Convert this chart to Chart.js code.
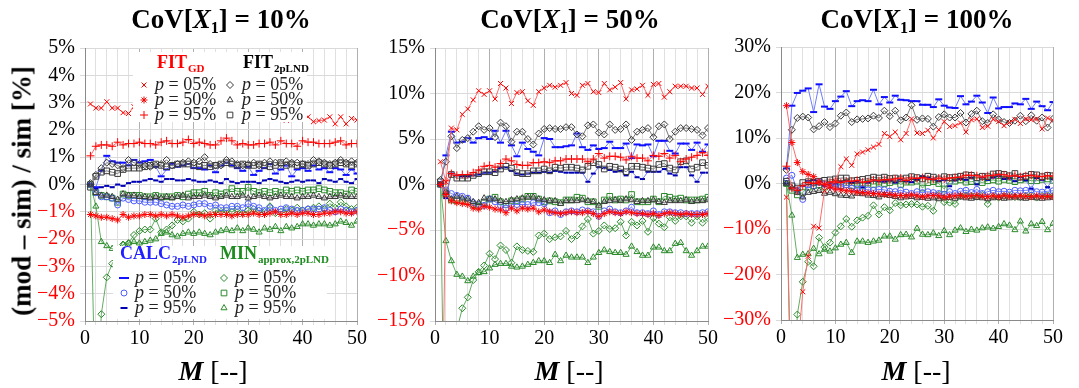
<!DOCTYPE html>
<html>
<head>
<meta charset="utf-8">
<script src="https://cdn.jsdelivr.net/npm/chart.js@4.4.1/dist/chart.umd.min.js"></script>
<style>
body{margin:0;background:#fff;width:1079px;height:388px;overflow:hidden;position:relative;font-family:"Liberation Serif",serif;}
canvas{position:absolute;top:0;}
.t{position:absolute;transform:translate(-50%,-50%);white-space:nowrap;font-weight:bold;font-size:27px;color:#000;line-height:1;}
.t sub{font-size:0.6em;vertical-align:-0.35em;line-height:0;}
.yt{transform:translate(-50%,-50%) rotate(-90deg);}
.xt{font-size:28px;font-weight:normal;}
</style>
</head>
<body>
<canvas id="c10" width="371" height="388" style="left:0px"></canvas>
<canvas id="c50" width="347" height="388" style="left:375px"></canvas>
<canvas id="c100" width="346" height="388" style="left:721px"></canvas>

<div class="t" style="left:221px;top:19px">CoV[<i>X</i><sub>1</sub>] = 10%</div>
<div class="t" style="left:570px;top:19px">CoV[<i>X</i><sub>1</sub>] = 50%</div>
<div class="t" style="left:917px;top:19px">CoV[<i>X</i><sub>1</sub>] = 100%</div>
<div class="t yt" style="left:22px;top:191px">(mod – sim) / sim [%]</div>
<div class="t xt" style="left:213px;top:371px"><b><i>M</i></b> [--]</div>
<div class="t xt" style="left:569px;top:371px"><b><i>M</i></b> [--]</div>
<div class="t xt" style="left:916px;top:371px"><b><i>M</i></b> [--]</div>

<script>
// M = number of ... (x axis)
const M = [1,2,3,4,5,6,7,8,9,10,11,12,13,14,15,16,17,18,19,20,21,22,23,24,25,26,27,28,29,30,31,32,33,34,35,36,37,38,39,40,41,42,43,44,45,46,47,48,49,50];
const P_LABELS = ['05%','50%','95%'];

// ---- CoV[X1] = 10% ----
const c10_gd05 = [2.95,2.8,2.8,3.03,2.8,2.8,2.63,2.6,2.85,2.7,2.65,2.7,2.6,2.65,2.6,2.55,2.6,2.65,2.55,2.5,2.6,2.55,2.5,2.55,2.45,2.5,2.55,2.45,2.5,2.4,2.5,2.45,2.4,2.5,2.4,2.45,2.35,2.4,2.45,2.4,2.48,2.3,2.34,2.36,2.48,2.22,2.48,2.22,2.42,2.36];
const c10_gd50 = [-1.1,-1.15,-1.2,-1.2,-1.25,-1.3,-1.1,-1.2,-1.15,-1.15,-1.1,-1.1,-1.15,-1.1,-1.15,-1.1,-1.15,-1.2,-1.15,-1.1,-1.1,-1.15,-1.1,-1.1,-1.1,-1.1,-1.15,-1.1,-1.1,-1.1,-1.05,-1.1,-1.1,-1.05,-1.0,-1.1,-1.1,-1.05,-1.1,-1.05,-1.05,-1.1,-1.1,-1.05,-1.05,-1.0,-1.0,-1.05,-1.05,-1.0];
const c10_gd95 = [1.05,1.4,1.45,1.45,1.4,1.55,1.45,1.5,1.5,1.55,1.5,1.5,1.45,1.55,1.6,1.5,1.5,1.55,1.65,1.5,1.55,1.5,1.45,1.45,1.6,1.7,1.6,1.45,1.5,1.45,1.45,1.5,1.5,1.55,1.45,1.6,1.5,1.5,1.4,1.6,1.55,1.55,1.5,1.5,1.5,1.55,1.6,1.45,1.5,1.5];
const c10_ln05 = [0.05,0.35,0.6,0.8,0.75,0.7,0.6,0.9,0.8,0.75,0.7,0.65,0.7,0.75,0.9,0.7,0.75,0.8,0.85,0.8,0.85,1.0,0.75,0.7,0.7,0.9,0.85,0.75,0.7,0.75,0.8,0.7,0.8,0.85,0.8,0.75,0.85,0.8,0.8,0.75,0.75,0.9,0.85,0.8,0.75,0.8,0.9,0.8,0.85,0.8];
const c10_ln50 = [0,-0.3,-0.4,-0.4,-0.45,-0.55,-0.35,-0.4,-0.4,-0.45,-0.45,-0.5,-0.45,-0.5,-0.45,-0.5,-0.45,-0.4,-0.5,-0.45,-0.45,-0.4,-0.45,-0.5,-0.45,-0.4,-0.45,-0.45,-0.4,-0.5,-0.45,-0.4,-0.45,-0.5,-0.45,-0.4,-0.45,-0.45,-0.5,-0.45,-0.45,-0.4,-0.45,-0.5,-0.45,-0.45,-0.4,-0.45,-0.45,-0.45];
const c10_ln95 = [-0.1,0.3,0.45,0.5,0.45,0.4,0.55,0.6,0.6,0.6,0.65,0.7,0.75,0.7,0.65,0.7,0.75,0.75,0.75,0.7,0.65,0.7,0.65,0.7,0.75,0.8,0.75,0.7,0.75,0.7,0.7,0.75,0.7,0.65,0.7,0.8,0.7,0.75,0.7,0.75,0.7,0.75,0.8,0.75,0.7,0.75,0.8,0.75,0.7,0.75];
const c10_ca05 = [0,-0.1,0.5,1.05,0.85,0.8,0.8,0.7,0.9,0.8,0.85,0.9,0.65,0.3,0.55,0.75,0.65,0.7,0.75,0.6,0.6,0.55,0.7,0.45,0.7,0.8,0.7,0.6,0.5,0.65,0.35,0.5,0.6,0.75,0.4,0.55,0.7,0.3,0.55,0.6,0.5,0.7,0.55,0.6,0.45,0.6,0.55,0.35,0.55,0.4];
const c10_ca50 = [0,-0.3,-0.45,-0.45,-0.5,-0.75,-0.5,-0.55,-0.6,-0.6,-0.65,-0.65,-0.65,-0.7,-0.75,-0.8,-0.8,-0.75,-0.8,-0.75,-0.7,-0.7,-0.8,-0.75,-0.85,-0.85,-0.8,-0.8,-0.85,-0.7,-0.8,-0.85,-0.95,-0.85,-0.95,-0.9,-0.85,-0.9,-0.95,-0.95,-0.9,-0.9,-0.9,-0.85,-0.95,-1.0,-0.9,-0.95,-1.0,-0.95];
const c10_ca95 = [0,-0.15,-0.1,-0.05,-0.1,0.0,-0.05,0.05,0.1,0.1,0.15,0.2,0.15,0.1,0.2,0.2,0.15,0.15,0.2,0.15,0.1,0.1,0.15,0.1,0.05,0.2,0.1,0.05,0.1,0.1,0.1,0.05,0.15,0.2,0.15,0.1,0.05,0.1,0.15,0.1,0.15,0.15,0.05,0.2,0.15,0.1,0.2,0.1,0.05,0.2];
const c10_mi05 = [0,-9,-4.75,-3.4,-2.9,-2.6,-2.2,-2.15,-1.85,-1.7,-1.65,-1.65,-1.25,-1.75,-1.65,-1.5,-1.3,-1.35,-1.25,-1.0,-1.1,-1.05,-1.25,-0.95,-1.0,-0.95,-1.0,-0.9,-1.05,-0.95,-0.9,-0.95,-1.0,-0.8,-1.05,-1.0,-0.9,-0.95,-0.85,-0.95,-0.9,-0.85,-0.8,-0.9,-0.7,-0.85,-0.65,-0.8,-0.9,-0.85];
const c10_mi50 = [0,-0.3,-0.4,-0.45,-0.5,-0.65,-0.35,-0.4,-0.4,-0.4,-0.45,-0.45,-0.4,-0.45,-0.45,-0.45,-0.4,-0.45,-0.35,-0.3,-0.3,-0.25,-0.4,-0.3,-0.35,-0.3,-0.15,-0.25,-0.25,-0.1,-0.25,-0.3,-0.25,-0.3,-0.25,-0.3,-0.2,-0.25,-0.2,-0.25,-0.2,-0.2,-0.15,-0.2,-0.25,-0.3,-0.3,-0.35,-0.2,-0.25];
const c10_mi95 = [0,-0.8,-2.1,-2.25,-2.35,-2.4,-2.2,-2.15,-2.1,-2.15,-2.1,-2.05,-2.0,-1.8,-1.75,-1.85,-1.9,-1.8,-1.75,-1.8,-1.75,-1.8,-1.85,-1.75,-1.7,-1.65,-1.7,-1.6,-1.7,-1.6,-1.65,-1.75,-1.6,-1.65,-1.55,-1.7,-1.55,-1.6,-1.55,-1.45,-1.45,-1.5,-1.45,-1.45,-1.5,-1.45,-1.35,-1.4,-1.5,-1.35];

// ---- CoV[X1] = 50% ----
const c50_gd05 = [2.5,0.3,6.2,6.0,7.7,8.3,9.3,10.3,9.9,10.3,9.4,11.1,10.6,8.9,10.1,10.2,9.2,8.7,10.2,10.6,10.9,10.7,10.9,11.2,10.0,9.8,10.9,11.1,10.2,10.1,11.1,10.4,10.7,11.2,9.4,10.4,10.5,10.9,9.8,11.0,11.1,9.6,10.2,10.8,10.8,10.8,10.6,10.6,9.9,10.8];
const c50_gd50 = [0,-1.1,-1.8,-2.0,-2.1,-2.2,-2.6,-2.7,-2.4,-2.5,-2.7,-2.8,-3.1,-2.6,-2.9,-2.6,-2.7,-2.6,-3.0,-2.8,-3.0,-3.1,-3.2,-3.1,-3.0,-3.1,-3.1,-3.0,-3.2,-3.5,-3.2,-3.0,-3.1,-3.2,-3.0,-3.1,-3.2,-3.2,-3.3,-3.2,-3.4,-3.2,-3.1,-3.2,-3.3,-3.2,-3.3,-3.3,-3.3,-3.2];
const c50_gd95 = [-40,0.4,1.2,1.0,1.1,1.1,1.3,1.6,2.0,2.1,1.9,2.3,2.8,2.6,2.2,2.1,2.1,2.4,2.4,2.5,2.4,2.6,2.6,2.8,2.8,2.8,2.8,2.5,2.8,3.4,2.9,3.1,3.1,3.0,2.7,3.1,2.9,2.9,2.6,3.2,3.1,3.4,2.9,3.2,2.5,2.8,3.0,3.2,3.5,3.2];
const c50_ln05 = [0.5,2.5,5.3,4.0,4.9,5.1,5.8,6.4,6.0,6.2,5.2,6.8,6.4,4.7,5.8,5.8,5.0,4.4,5.6,6.1,6.2,6.1,6.1,6.3,6.3,5.5,5.3,6.5,6.6,5.7,5.5,6.6,6.0,6.1,6.6,4.9,5.8,6.0,6.2,5.2,6.4,6.6,5.0,5.8,6.2,6.2,6.1,6.0,5.4,6.2];
const c50_ln50 = [0,-0.8,-1.6,-1.3,-1.5,-1.6,-1.9,-2.0,-1.5,-1.6,-1.6,-1.8,-1.9,-1.7,-1.6,-1.5,-1.4,-1.4,-1.6,-1.7,-1.8,-1.8,-2.1,-1.8,-1.8,-1.8,-1.7,-1.8,-1.9,-2.3,-1.9,-1.8,-1.7,-1.8,-1.6,-1.7,-1.9,-1.8,-1.8,-1.7,-1.9,-2.0,-1.8,-1.8,-1.8,-1.7,-1.9,-1.8,-1.8,-1.7];
const c50_ln95 = [0.3,-1.0,1.1,0.7,0.7,0.7,1.0,1.2,1.4,1.4,1.3,1.7,2.0,1.8,1.3,1.2,1.2,1.5,1.5,1.7,1.5,1.9,1.8,1.9,1.9,1.8,1.6,2.0,2.4,2.2,1.7,2.0,1.9,1.7,1.4,2.0,2.0,1.9,1.8,1.7,2.2,2.3,1.8,1.6,2.5,2.6,1.7,1.9,2.4,2.1];
const c50_ca05 = [0,3.2,5.8,4.6,4.7,5.1,4.6,5.1,5.2,5.0,5.9,4.6,5.9,4.3,3.1,4.6,3.9,3.6,3.2,5.1,5.0,4.1,4.1,4.2,4.3,5.6,4.1,3.8,4.3,3.9,4.0,4.7,4.0,4.0,4.5,2.9,4.4,4.3,4.4,3.1,4.8,4.8,3.7,3.4,4.5,4.5,3.8,4.6,3.6,4.4];
const c50_ca50 = [0,-0.6,-1.0,-1.2,-1.3,-1.5,-2.0,-2.2,-2.3,-1.6,-1.9,-2.3,-2.6,-2.2,-2.2,-2.2,-2.2,-2.0,-2.0,-2.1,-3.1,-2.9,-3.3,-3.0,-2.9,-3.0,-2.8,-2.9,-3.0,-3.5,-2.9,-2.7,-3.0,-3.1,-2.9,-2.5,-3.1,-3.1,-3.2,-2.9,-3.3,-3.0,-3.0,-3.1,-3.1,-3.2,-3.2,-3.2,-3.1,-3.0];
const c50_ca95 = [0,-1.5,1.2,1.0,0.9,0.9,1.0,1.1,1.3,1.3,1.4,1.8,1.9,1.5,1.2,1.1,1.2,1.3,1.3,1.4,1.3,1.5,1.4,1.3,1.3,1.3,1.3,0.3,1.2,1.9,1.8,1.6,1.4,1.5,1.0,1.4,0.8,0.6,1.4,1.4,1.4,1.7,1.2,1.0,1.9,1.9,1.0,0.3,1.3,1.3];
const c50_mi05 = [0,-40,-30,-16,-13.6,-12.4,-10.5,-9.6,-8.9,-7.6,-8.2,-6.7,-7.2,-8.6,-6.8,-7.2,-7.3,-7.4,-5.6,-5.4,-6.0,-5.8,-5.7,-5.1,-6.0,-5.6,-4.6,-3.8,-5.4,-5.1,-4.5,-4.9,-4.8,-4.1,-5.6,-4.1,-4.5,-4.0,-5.2,-3.7,-4.3,-4.7,-3.6,-4.0,-3.5,-3.5,-4.2,-3.5,-4.2,-3.7];
const c50_mi50 = [0,-1.2,-1.7,-1.8,-1.8,-1.9,-2.2,-2.4,-2.0,-1.6,-1.4,-1.9,-2.2,-1.8,-1.8,-1.6,-1.3,-1.3,-1.6,-1.9,-1.8,-1.9,-2.0,-1.7,-1.7,-1.4,-1.5,-1.9,-1.9,-2.4,-1.7,-1.3,-1.7,-1.6,-1.7,-1.1,-1.9,-1.9,-1.9,-1.6,-1.9,-1.3,-1.4,-1.6,-1.5,-1.7,-1.7,-1.7,-1.6,-1.4];
const c50_mi95 = [0,-6.2,-8.4,-9.9,-10.1,-10.6,-10.1,-9.7,-9.6,-9.2,-8.8,-8.7,-8.7,-9.0,-9.1,-9.0,-8.8,-8.6,-8.4,-8.4,-8.6,-7.7,-8.4,-7.8,-8.0,-8.0,-8.0,-8.6,-8.0,-7.5,-7.2,-7.4,-7.5,-7.5,-7.7,-6.8,-7.4,-7.8,-7.8,-6.9,-6.9,-7.3,-7.3,-6.5,-6.4,-7.3,-7.8,-7.3,-6.8,-6.8];

// ---- CoV[X1] = 100% ----
const c100_gd05 = [-3,-50,-38,-23.8,-16,-9.4,-9.8,-1.5,-0.5,0.5,3.7,5.4,4.0,6.5,6.9,7.4,8.0,8.6,11.0,10.3,11.3,9.6,11.0,14.2,11.1,11.0,11.7,10.0,11.8,13.6,12.5,12.7,13.3,11.3,14.0,14.2,12.3,12.6,14.1,13.6,12.7,13.4,14.1,13.2,14.2,14.0,14.2,12.0,14.4,13.9];
const c100_gd50 = [17.1,9.0,4.6,2.6,2.0,1.5,0.3,-0.3,-0.8,-1.2,-1.4,-1.6,-1.7,-1.9,-2.0,-2.1,-2.2,-2.3,-2.4,-2.4,-2.6,-2.6,-2.7,-2.5,-2.7,-2.9,-2.7,-2.6,-2.7,-3.0,-2.8,-2.7,-2.6,-2.8,-2.7,-2.6,-2.8,-2.9,-2.7,-2.9,-2.6,-2.8,-2.8,-2.7,-2.8,-2.9,-2.7,-2.9,-2.8,-2.9];
const c100_gd95 = [3.8,-1.0,-1.5,-0.5,0.2,0.0,0.3,-0.2,0.3,0.5,0.2,0.5,0.5,0.7,0.3,0.4,0.8,0.6,0.9,0.8,1.0,1.2,0.7,1.2,1.1,1.3,1.0,0.9,1.2,1.0,1.2,1.3,1.4,1.8,1.8,1.7,1.4,1.7,1.8,2.0,1.9,1.6,1.8,1.5,1.7,1.8,1.6,1.5,1.7,1.6];
const c100_ln05 = [3.0,11.8,14.4,14.7,14.5,11.9,12.6,13.5,12.4,13.2,14.9,15.6,13.5,14.1,14.2,14.3,14.9,14.4,16.0,14.8,16.0,13.9,14.5,17.2,14.0,14.3,14.2,12.5,14.6,15.2,14.5,14.5,15.5,13.4,15.3,16.0,13.7,13.3,15.2,14.1,13.5,13.3,13.8,14.9,13.7,15.0,13.8,14.5,12.3,14.2];
const c100_ln50 = [0,-1.0,-2.0,-3.0,-2.0,-1.8,-1.6,-2.2,-2.0,-2.3,-2.6,-2.7,-2.8,-2.2,-2.3,-2.6,-2.7,-3.0,-2.5,-2.7,-2.9,-3.2,-3.0,-2.9,-3.2,-3.1,-3.3,-3.2,-3.4,-3.2,-3.1,-3.3,-3.0,-3.2,-3.3,-3.1,-3.2,-3.4,-3.2,-3.1,-3.3,-3.2,-3.0,-3.2,-3.3,-3.1,-3.2,-3.3,-3.2,-3.1];
const c100_ln95 = [0.5,-0.5,-1.0,0.2,0.4,0.3,0.5,0.7,0.8,1.0,1.2,1.2,0.6,0.7,0.9,1.1,1.4,1.2,1.4,1.1,1.2,1.0,1.2,1.5,1.3,1.0,1.6,1.4,1.0,1.5,1.3,1.4,1.6,1.9,1.8,1.3,1.6,1.5,2.1,2.2,2.0,1.7,2.2,1.4,1.6,2.0,1.9,1.5,1.8,1.7];
const c100_ca05 = [3.3,17.1,19.9,20.4,20.9,15.7,21.8,16.9,16.4,18.1,19.1,20.3,17.0,18.1,18.3,18.1,20.6,17.4,19.0,17.8,19.3,18.4,18.3,18.1,18.1,17.3,17.3,16.8,18.5,17.1,16.7,16.6,19.2,17.4,18.0,19.3,17.8,15.5,18.9,16.5,16.8,16.8,17.6,17.4,18.6,16.4,18.0,17.0,16.1,17.9];
const c100_ca50 = [1.2,1.8,-1.5,-3.5,-0.3,-0.5,0.3,-0.2,-0.5,-0.8,-0.8,-0.3,-1.0,-1.2,-1.2,-1.4,-1.5,-1.3,-1.4,-1.7,-1.8,-1.5,-1.9,-2.2,-1.8,-2.0,-1.8,-2.0,-2.2,-2.4,-1.8,-2.2,-1.7,-1.5,-2.0,-1.3,-2.2,-1.8,-1.5,-1.8,-1.7,-1.9,-1.5,-1.6,-1.5,-1.4,-1.8,-1.9,-1.7,-1.6];
const c100_ca95 = [0,-1.0,-1.3,-0.5,0.5,0.8,0.4,-0.5,0.0,-0.2,0.4,0.6,0.3,0.5,-0.8,0.2,0.7,0.5,0.4,0.7,0.2,0.9,0.5,0.3,0.8,1.6,1.3,0.9,0.5,0.8,-0.6,0.7,1.0,0.8,1.3,-0.2,1.4,0.8,1.3,1.6,1.0,1.1,0.5,1.4,0.7,-1.2,1.2,0.8,-0.8,1.0];
const c100_mi05 = [0,-60,-28.8,-21.6,-17.2,-18.2,-11.9,-14.0,-13.0,-10.8,-9.4,-7.8,-9.5,-8.1,-7.5,-7.1,-4.8,-6.8,-5.2,-5.9,-4.3,-4.8,-4.6,-4.5,-4.6,-5.1,-4.9,-6.0,-2.5,-4.1,-4.2,-4.5,-2.8,-2.6,-2.7,-2.9,-2.5,-4.5,-2.8,-3.1,-2.8,-2.6,-3.0,-3.0,-2.7,-2.6,-3.1,-2.7,-2.6,-2.7];
const c100_mi50 = [0,-1.5,-2.5,-2.0,-0.8,-0.5,-0.3,-0.8,-0.2,0.0,-0.5,0.2,-0.5,-0.3,-0.5,0.1,-0.2,0.3,0.0,0.2,0.5,-0.2,0.3,0.3,0.5,-1.0,0.2,0.4,0.0,-1.2,0.5,0.5,0.8,0.3,0.4,0.6,0.2,0.6,0.8,0.5,0.9,0.7,0.4,0.8,1.0,0.6,0.6,0.9,1.0,0.7];
const c100_mi95 = [0,-7.0,-16.3,-15.6,-15.5,-14.3,-15.5,-14.5,-14.9,-14.2,-13.4,-13.0,-15.2,-12.7,-12.7,-13.0,-12.7,-12.5,-11.6,-11.6,-12.3,-11.3,-11.2,-11.8,-9.9,-11.2,-11.3,-10.9,-11.5,-10.4,-11.3,-10.3,-9.8,-10.6,-10.1,-10.3,-9.8,-9.6,-9.9,-9.5,-8.9,-9.2,-10.2,-8.3,-10.5,-8.9,-9.3,-8.4,-10.2,-8.8];

const SERIF = '"Liberation Serif", serif';
Chart.defaults.font.family = SERIF;

// estilos de las series (color del marcador, color de la linea, tipo de marcador)
const RED = {color:'#ff0000', line:'#ff6a6a'};
const GRAY = {color:'#3a3a3a', line:'#7a7a7a'};
const BLUE = {color:'#1010ff', line:'#6d7cff'};
const GREEN = {color:'#2a8a2a', line:'#62ad62'};
const STY = [
  {...RED, point:'crossRot', r:3.5},
  {...RED, point:'star', r:3.5},
  {...RED, point:'cross', r:4},
  {...GRAY, point:'rectRot', r:3.5},
  {...GRAY, point:'triangle', r:3.5},
  {...GRAY, point:'rect', r:4},
  {...BLUE, point:'line', r:3.5, bw:2, lr:5},
  {...BLUE, color:'#4d5dff', point:'circle', r:3},
  {...BLUE, color:'#0000b0', point:'line', r:2.5, bw:2, lr:3.5},
  {...GREEN, point:'rectRot', r:3.5},
  {...GREEN, point:'rect', r:4},
  {...GREEN, point:'triangle', r:3.5}
];

// leyenda dibujada dentro del grafico con fondo blanco
const boxLegend = {
  id: 'boxLegend',
  afterDatasetsDraw(chart, args, opts) {
    if (!opts.groups) return;
    const ctx = chart.ctx;
    ctx.save();
    opts.boxes.forEach(b => {
      ctx.fillStyle = '#fff';
      ctx.fillRect(b[0], b[1], b[2] - b[0], b[3] - b[1]);
    });
    opts.groups.forEach(g => {
      ctx.textAlign = 'left';
      ctx.textBaseline = 'alphabetic';
      ctx.fillStyle = g.color;
      ctx.font = 'bold 18px ' + SERIF;
      ctx.fillText(g.title, g.hx, g.hy);
      const w = ctx.measureText(g.title).width;
      ctx.font = 'bold 11px ' + SERIF;
      ctx.fillText(g.sub, g.hx + w + 1, g.hy + 4);
      g.styles.forEach((si, i) => {
        const st = STY[si];
        const y = g.ry[i];
        ctx.fillStyle = 'rgba(0,0,0,0)';
        ctx.strokeStyle = st.color;
        ctx.lineWidth = st.bw || 1;
        Chart.helpers.drawPoint(ctx, {pointStyle: st.point, radius: st.lr || st.r, borderWidth: st.bw || 1, rotation: 0}, g.mx, y);
        ctx.fillStyle = '#222';
        ctx.textBaseline = 'middle';
        ctx.font = 'italic 18px ' + SERIF;
        ctx.fillText('p', g.tx, y);
        const pw = ctx.measureText('p').width;
        ctx.font = '18px ' + SERIF;
        ctx.fillText(' = ' + P_LABELS[i], g.tx + pw, y);
      });
    });
    ctx.restore();
  }
};
Chart.register(boxLegend);

function crearPanel(id, series, cfg) {
  const datasets = series.map((vals, i) => {
    const st = STY[i];
    return {
      data: vals.map((v, j) => ({x: M[j], y: v})),
      borderColor: st.line,
      borderWidth: 1,
      pointStyle: st.point,
      pointRadius: st.r,
      pointBorderColor: st.color,
      pointBackgroundColor: 'rgba(0,0,0,0)',
      pointBorderWidth: st.bw || 1,
      tension: 0,
      fill: false
    };
  });
  return new Chart(document.getElementById(id), {
    type: 'line',
    data: {datasets},
    options: {
      responsive: false,
      animation: false,
      devicePixelRatio: 1,
      layout: {padding: {top: cfg.top, right: 14, bottom: 0, left: 0}},
      plugins: {legend: {display: false}, tooltip: {enabled: false}, boxLegend: cfg.legend || {}},
      scales: {
        x: {
          type: 'linear', min: 0, max: 50,
          afterFit(s) { s.height = 388 - cfg.bottom; },
          ticks: {stepSize: 2, autoSkip: false, maxRotation: 0, color: '#000', padding: 2,
                  font: {family: SERIF, size: 20},
                  callback: v => (v % 10 === 0 ? String(v) : '')},
          grid: {color: c => (c.tick && c.tick.value % 10 === 0 ? '#b0b0b0' : '#e0e0e0'), tickLength: 4},
          border: {color: '#8a8a8a'}
        },
        y: {
          min: cfg.ymin, max: cfg.ymax,
          afterFit(s) { s.width = cfg.yw; },
          ticks: {stepSize: cfg.step, padding: 5,
                  color: c => (c.tick.value < 0 ? '#ff0000' : '#000'),
                  font: {family: SERIF, size: 20},
                  callback: v => (v < 0 ? '\u2212' : '') + Math.abs(v) + '%'},
          grid: {color: '#dadada', tickLength: 5},
          border: {color: '#8a8a8a'}
        }
      }
    }
  });
}

crearPanel('c10',
  [c10_gd05, c10_gd50, c10_gd95, c10_ln05, c10_ln50, c10_ln95, c10_ca05, c10_ca50, c10_ca95, c10_mi05, c10_mi50, c10_mi95],
  {ymin: -5, ymax: 5, step: 1, yw: 85, top: 48, bottom: 321,
   legend: {
     boxes: [[133, 52, 307, 122], [113, 246, 327, 319]],
     groups: [
       {title: 'FIT', sub: 'GD', color: '#ff0000', hx: 157, hy: 68, mx: 144, tx: 155, ry: [85, 100, 115], styles: [0, 1, 2]},
       {title: 'FIT', sub: '2pLND', color: '#000', hx: 243, hy: 68, mx: 230, tx: 242, ry: [85, 100, 115], styles: [3, 4, 5]},
       {title: 'CALC', sub: '2pLND', color: '#1f1fff', hx: 120, hy: 259, mx: 124, tx: 135, ry: [278, 293, 308], styles: [6, 7, 8]},
       {title: 'MIN', sub: 'approx,2pLND', color: '#1e8c1e', hx: 220, hy: 259, mx: 224, tx: 235, ry: [278, 293, 308], styles: [9, 10, 11]}
     ]
   }});

crearPanel('c50',
  [c50_gd05, c50_gd50, c50_gd95, c50_ln05, c50_ln50, c50_ln95, c50_ca05, c50_ca50, c50_ca95, c50_mi05, c50_mi50, c50_mi95],
  {ymin: -15, ymax: 15, step: 5, yw: 60, top: 48, bottom: 321});

crearPanel('c100',
  [c100_gd05, c100_gd50, c100_gd95, c100_ln05, c100_ln50, c100_ln95, c100_ca05, c100_ca50, c100_ca95, c100_mi05, c100_mi50, c100_mi95],
  {ymin: -30, ymax: 30, step: 10, yw: 60, top: 47, bottom: 320});
</script>
</body>
</html>
